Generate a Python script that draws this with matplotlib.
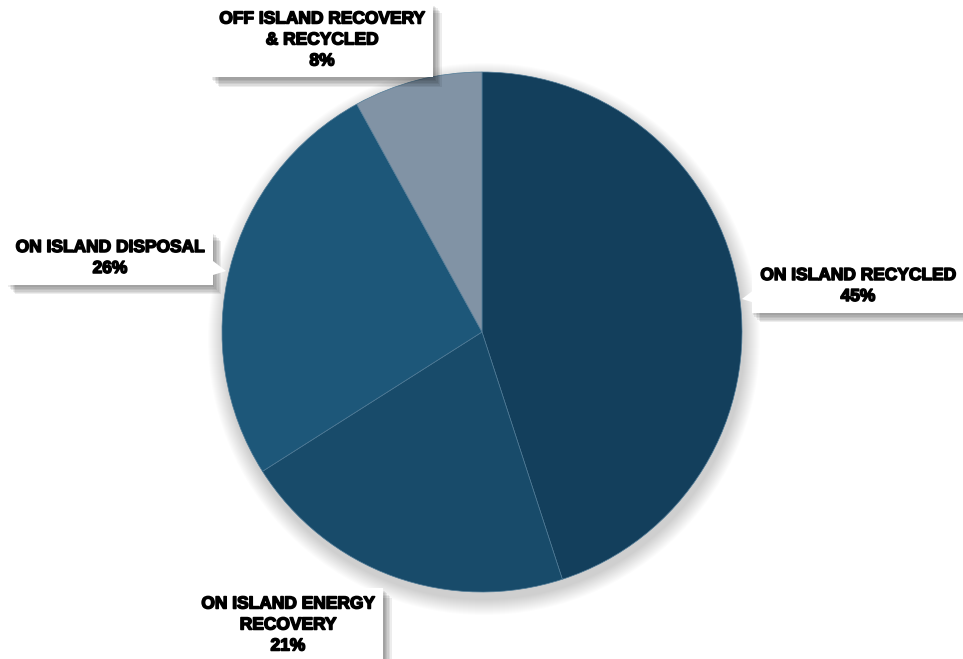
import matplotlib.pyplot as plt
import matplotlib.patheffects as pe
from matplotlib.patches import Circle, Polygon
import numpy as np

# Datos
labels = ['ON ISLAND RECYCLED', 'ON ISLAND ENERGY\nRECOVERY', 'ON ISLAND DISPOSAL',
          'OFF ISLAND RECOVERY\n& RECYCLED']
values = [45, 21, 26, 8]
colors = ['#133F5C', '#184B6A', '#1D5779', '#8193A5']

W, H = 963, 659
fig = plt.figure(figsize=(W / 100, H / 100), dpi=100)
ax = fig.add_axes([0, 0, 1, 1])

cx, cy, r = 482, H - 332, 260

wedges, _ = ax.pie(values, center=(cx, cy), radius=r, startangle=90, counterclock=False,
                   colors=colors, wedgeprops=dict(edgecolor='#4F7A96', linewidth=0.5))
for w in wedges:
    w.set_zorder(2)

ax.set_xlim(0, W)
ax.set_ylim(0, H)
ax.set_aspect('equal')
ax.axis('off')

# sombra suave del pastel
for i in range(16):
    ax.add_patch(Circle((cx + 2, cy - 7), r + 16 - i, color='black', alpha=0.01, lw=0, zorder=0))

# Posiciones de las etiquetas (centro de la caja) y ancla en el borde de la caja
label_pos = [(858, H - 286), (288, H - 625), (110, H - 258), (322, H - 40)]
anchor = [(753, H - 296), None, (215, H - 268), None]

# sombra difusa de las cajas
shadow = [pe.SimplePatchShadow(offset=(d, -d - 1), shadow_rgbFace='black', alpha=0.07)
          for d in range(1, 7)] + [pe.Normal()]
heavy = [pe.withStroke(linewidth=1.1, foreground='black')]

total = sum(values)
start = 90
for lab, v, pos, anc in zip(labels, values, label_pos, anchor):
    mid = np.deg2rad(start - v / total * 360 / 2)
    start -= v / total * 360
    tip = (cx + r * np.cos(mid), cy + r * np.sin(mid))
    t = ax.text(pos[0], pos[1], f'{lab}\n{v}%', ha='center', va='center',
                fontsize=12.5, fontweight='bold', family=['Liberation Sans', 'DejaVu Sans'],
                linespacing=1.5, zorder=6, path_effects=heavy,
                bbox=dict(boxstyle='square,pad=0.5', facecolor='white', edgecolor='none'))
    t.get_bbox_patch().set_path_effects(shadow)
    if anc is not None:
        bx, by = anc
        side = -1 if tip[0] < bx else 1
        pts = [(bx - 2 * side, by + 7), (bx - 2 * side, by - 7), (bx + 11 * side, by - 3)]
        ax.add_patch(Polygon(pts, closed=True, facecolor='white', edgecolor='none', zorder=7))

fig.savefig('out.png', dpi=100)
